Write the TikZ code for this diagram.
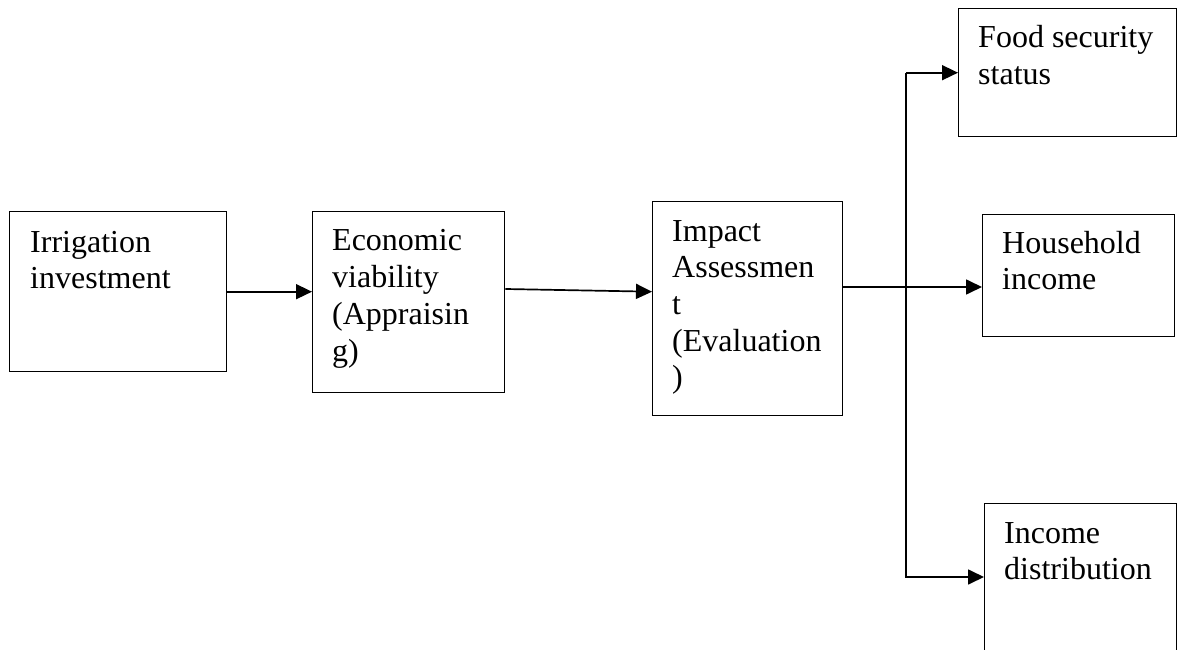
\documentclass[tikz,border=0pt]{standalone}
\usepackage{fontspec}
\setmainfont{Liberation Serif}
\usetikzlibrary{arrows.meta,calc}
\newcommand{\mlines}[1]{\begin{tabular}[t]{@{}l@{}}#1\end{tabular}}
\begin{document}
\begin{tikzpicture}[x=1pt,y=-1pt,
  box/.style={draw,line width=1.4pt,inner sep=0pt,anchor=north west},
  lbl/.style={anchor=base west,inner sep=0pt,
    font=\fontsize{32}{36.7}\selectfont},
  arr/.style={line width=1.7pt,-{Triangle[length=16pt,width=15pt]}},
  thin/.style={line width=1.1pt}]
\clip (0,0) rectangle (1179,650);
\fill[white] (0,0) rectangle (1179,650);
% boxes
\node[box,minimum width=217pt,minimum height=160pt] (b1) at (9,211) {};
\node[box,minimum width=192pt,minimum height=181pt] (b2) at (312,211) {};
\node[box,minimum width=190pt,minimum height=214pt] (b3) at (652,201) {};
\node[box,minimum width=218pt,minimum height=128pt] (b4) at (958,8) {};
\node[box,minimum width=192pt,minimum height=122pt] (b5) at (982,214) {};
\node[box,minimum width=192pt,minimum height=170pt] (b6) at (984,503) {};
% texts
\node[lbl] (t1) at ($(b1.north west)+(21,41)$) {\mlines{Irrigation\\investment}};
\node[lbl] (t2) at ($(b2.north west)+(20,40)$) {\mlines{Economic\\viability\\(Appraisin\\g)}};
\node[lbl] (t3) at ($(b3.north west)+(20,40)$) {\mlines{Impact\\Assessmen\\t\\(Evaluation\\)}};
\node[lbl] (t4) at ($(b4.north west)+(20,40)$) {\mlines{Food security\\status}};
\node[lbl] (t5) at ($(b5.north west)+(20,39)$) {\mlines{Household\\income}};
\node[lbl] (t6) at ($(b6.north west)+(20,40)$) {\mlines{Income\\distribution}};
% connectors
\coordinate (bus) at (906,287);
\coordinate (j6) at (906,577);
\draw[arr] (b1.east) -- (b1.east -| b2.west);
\draw[arr] ($(b2.north east)+(0,78)$) -- (b1.east -| b3.west);
\draw[thin] (b3.east |- bus) -- (bus);
\draw[arr] (bus) -- (bus -| b5.west);
\draw[arr] (b4.west -| bus) -- (b4.west);
\draw[arr] (b4.west -| bus) -- (j6) -- (j6 -| b6.west);
\end{tikzpicture}
\end{document}
